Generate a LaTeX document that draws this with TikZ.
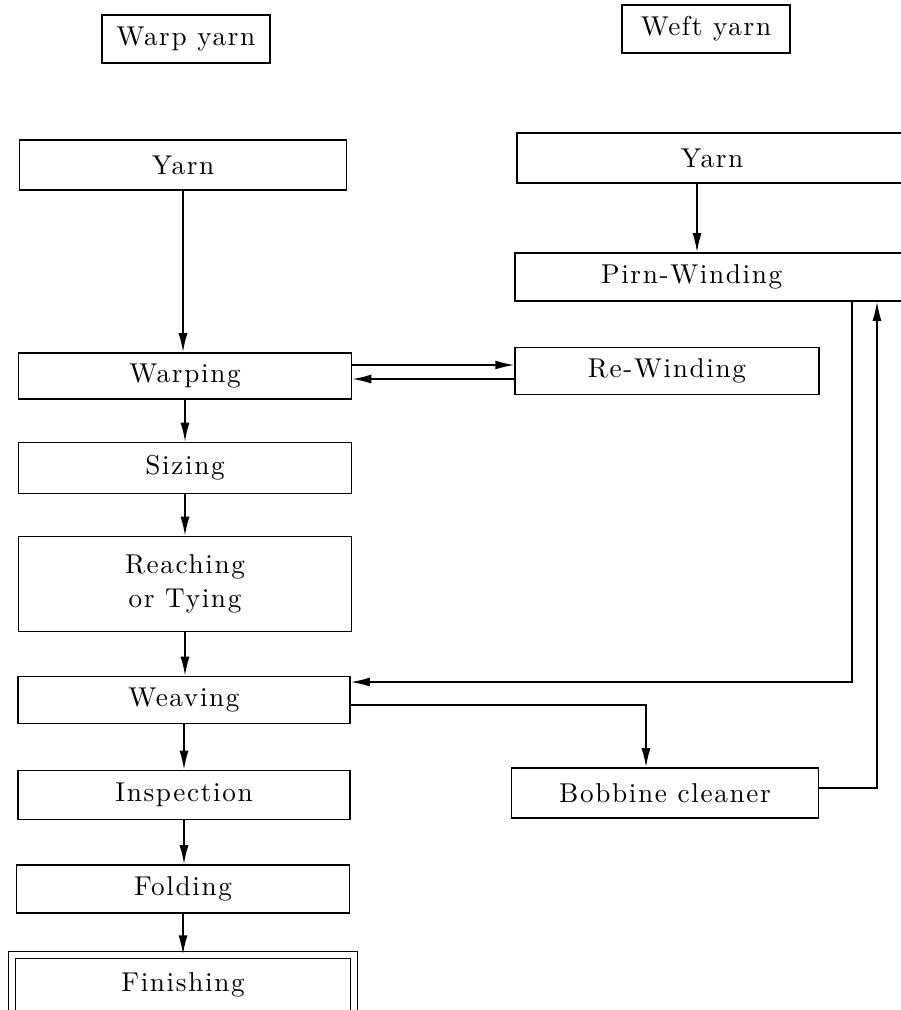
\documentclass[tikz,border=0pt]{standalone}
\usepackage{fontspec}
\newfontfamily\etiqfont{lmroman10-regular}[Extension=.otf,LetterSpace=6]
\usetikzlibrary{calc,arrows.meta}

\begin{document}
\begin{tikzpicture}[x=0.02cm,y=-0.02cm,line width=0.9pt,black]
			\tikzset{etapa/.style={draw=black,rectangle,inner sep=0pt,align=center,line width=0.9pt,font=\etiqfont\fontsize{15.5}{19}\selectfont},
				flecha/.style={-{Latex[length=3.8mm,width=1.8mm]},line width=0.9pt}}
			\useasboundingbox (0,0) rectangle (900,1010);
			\node[etapa,minimum width=3.36cm,minimum height=0.96cm] at (186,39) (WY){Warp yarn};
			\node[etapa,minimum width=3.36cm,minimum height=0.96cm] at (706,29) (FY){Weft yarn};
			\node[etapa,minimum width=6.54cm,minimum height=1cm] at (183,165) (YL){Yarn};
			\node[etapa,minimum width=7.8cm,minimum height=1cm] at (712,158) (YR){Yarn};
			\node[etapa,minimum width=7.84cm,minimum height=0.96cm] at (711,277) (PW){Pirn-Winding\hspace*{22pt}};
			\node[etapa,minimum width=6.08cm,minimum height=0.94cm] at (667,371) (RW){Re-Winding};
			\node[etapa,minimum width=6.66cm,minimum height=0.92cm] at (185,376) (WA){Warping};
			\node[etapa,minimum width=6.66cm,minimum height=1.02cm] at (185,468) (SZ){Sizing};
			\node[etapa,minimum width=6.66cm,minimum height=1.9cm] at (185,584) (RT){Reaching\\or Tying};
			\node[etapa,minimum width=6.64cm,minimum height=0.94cm] at (184,700) (WV){Weaving};
			\node[etapa,minimum width=6.64cm,minimum height=0.98cm] at (184,795) (IN){Inspection};
			\node[etapa,minimum width=6.14cm,minimum height=1cm] at (665,793) (BC){Bobbine cleaner};
			\node[etapa,minimum width=6.66cm,minimum height=0.96cm] at (183,889) (FO){Folding};
			\node[etapa,double,double distance=0.12cm,line width=0.7pt,minimum width=6.84cm,minimum height=1.2cm] at (183,985) (FI){Finishing};
			% warp line
			\draw[flecha] (YL.south) -- (YL.south |- WA.north);
			\draw[flecha] (WA.south) -- (WA.south |- SZ.north);
			\draw[flecha] (SZ.south) -- (SZ.south |- RT.north);
			\draw[flecha] (RT.south) -- (RT.south |- WV.north);
			\draw[flecha] (WV.south) -- (WV.south |- IN.north);
			\draw[flecha] (IN.south) -- (IN.south |- FO.north);
			\draw[flecha] (FO.south) -- (FO.south |- FI.north);
			% weft line
			\draw[flecha] ([xshift=-0.3cm]YR.south) -- ([xshift=-0.3cm]YR.south |- PW.north);
			\draw[flecha] ([yshift=0.22cm]WA.east) -- ([yshift=0.22cm]WA.east -| RW.west);
			\draw[flecha] ([yshift=-0.16cm]RW.west) -- ([yshift=-0.16cm]RW.west -| WA.east);
			\draw[flecha] ([xshift=2.82cm]PW.south) |- ([yshift=0.36cm]WV.east);
			\draw[flecha] ([yshift=-0.1cm]WV.east) -| ([xshift=-0.38cm]BC.north);
			\draw[flecha] ([yshift=0.1cm]BC.east) -| ([xshift=3.32cm]PW.south);
	\end{tikzpicture}
\end{document}
